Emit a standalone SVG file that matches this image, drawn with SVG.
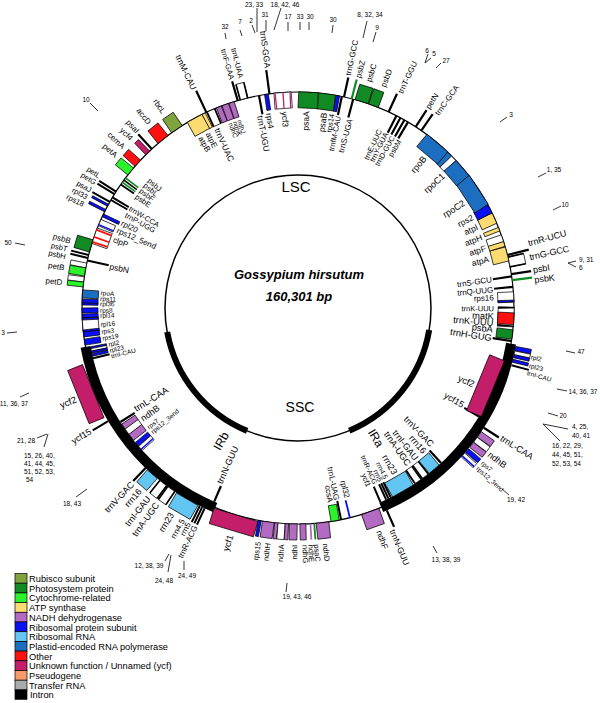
<svg xmlns="http://www.w3.org/2000/svg" width="600" height="703" viewBox="0 0 600 703">
<style>
rect{stroke:#000;stroke-width:.7}
.k{fill:#000;stroke:none}
.n{stroke:none}
.rb{fill:#7fa43e}.ps{fill:#128a24}.cy{fill:#2bf22b}.at{fill:#fcdb70}.nd{fill:#b36ac2}.rp{fill:#0a10f5}.rr{fill:#63c5f2}.pe{fill:#1c6ec0}.ot{fill:#ff1010}.yc{fill:#c41e6a}.pg{fill:#f59a6a}.tg{fill:#aaaaaa}.in{fill:#000}.wh{fill:#fff}
text{font-family:"Liberation Sans",Arial,Helvetica,sans-serif;fill:#000;font-size:8px}
.ri,.lo{text-anchor:end}.ro,.li{text-anchor:start}
.s65{font-size:6.5px}.s7{font-size:7px}.s75{font-size:7.5px}.s85{font-size:8.5px}.s9{font-size:9px}.s93{font-size:9.3px}
.m{font-size:6.5px;text-anchor:middle}.ms{font-size:6.5px;text-anchor:start}
.ml{stroke:#000;stroke-width:.8}
.lg{font-size:9.3px}
.ring{fill:none;stroke:#000;stroke-width:1.2}
</style>
<g id="connectors" transform="translate(298,308)">
<circle class="ring" r="216"/>
<circle r="216" fill="none" stroke="#000" stroke-width="10" stroke-dasharray="217.9 1139.3" transform="rotate(9.5)"/>
<circle r="216" fill="none" stroke="#000" stroke-width="10" stroke-dasharray="215.3 1141.9" transform="rotate(112.5)"/>
<circle r="133" fill="none" stroke="#000" stroke-width="1.5"/>
<circle r="133" fill="none" stroke="#000" stroke-width="6" stroke-dasharray="134.2 701.5" transform="rotate(9.5)"/>
<circle r="133" fill="none" stroke="#000" stroke-width="6" stroke-dasharray="132.5 703.2" transform="rotate(112.5)"/>
</g>
<g id="center">
<text x="296" y="192" style="font-size:15px" text-anchor="middle">LSC</text>
<text x="299" y="279" style="font-size:13px;font-weight:bold;font-style:italic" text-anchor="middle">Gossypium hirsutum</text>
<text x="299" y="301" style="font-size:13px;font-weight:bold;font-style:italic" text-anchor="middle">160,301 bp</text>
<text x="300" y="412" style="font-size:14px" text-anchor="middle">SSC</text>
<text transform="translate(221,441) rotate(-60)" style="font-size:12px" text-anchor="middle" dy=".35em">IRb</text>
<text transform="translate(376,438) rotate(59)" style="font-size:12px" text-anchor="middle" dy=".35em">IRa</text>
</g>
<g id="genes" transform="translate(298,308)">
<g id="trnH-GUG"><rect class="k" transform="rotate(98.8)" x="-1.1" y="-216" width="2.2" height="19"/><text class="ri s93" transform="rotate(98.8) translate(0,-196) rotate(-90)" dy=".35em">trnH-GUG</text></g>
<g id="psbA"><rect class="ps" transform="rotate(97.05)" x="-4.7" y="-216" width="9.4" height="16"/><text class="ri s93" transform="rotate(96.2) translate(0,-196) rotate(-90)" dy=".35em">psbA</text></g>
<g id="trnK-UUU"><rect class="wh" transform="rotate(92.4)" x="-9.8" y="-216" width="19.6" height="16"/><rect class="ot" transform="rotate(92.85)" x="-5.85" y="-216" width="11.7" height="16"/><rect class="k" transform="rotate(89.95)" x="-.8" y="-216" width="1.6" height="16"/><rect class="k" transform="rotate(94.85)" x="-.8" y="-216" width="1.6" height="16"/><text class="ri s75" transform="rotate(90.2) translate(0,-196) rotate(-90)" dy=".35em">trnK-UUU</text><text class="ri s93" transform="rotate(94.3) translate(0,-196) rotate(-90)" dy=".35em">trnK-UUU</text></g>
<g id="matK"><text class="ri s93" transform="rotate(92.4) translate(0,-196) rotate(-90)" dy=".35em">matK</text></g>
<g id="rps16"><rect class="wh" transform="rotate(87.05)" x="-5.1" y="-216" width="10.2" height="16"/><rect class="rp" transform="rotate(88.15)" x="-.95" y="-216" width="1.9" height="16"/><text class="ri" transform="rotate(86.9) translate(0,-196) rotate(-90)" dy=".35em">rps16</text></g>
<g id="trnQ-UUG"><rect class="k" transform="rotate(84.4)" x="-1.1" y="-216" width="2.2" height="19"/><text class="ri" transform="rotate(84.6) translate(0,-196) rotate(-90)" dy=".35em">trnQ-UUG</text></g>
<g id="psbK"><rect class="ps n" transform="rotate(82.6)" x="-1.1" y="-236" width="2.2" height="20"/><text class="ro s9" transform="rotate(83.2) translate(0,-238) rotate(-90)" dy=".35em">psbK</text></g>
<g id="trnS-GCU"><rect class="k" transform="rotate(81.6)" x="-1.1" y="-216" width="2.2" height="19"/><text class="ri" transform="rotate(81.6) translate(0,-196) rotate(-90)" dy=".35em">trnS-GCU</text></g>
<g id="psbI"><rect class="k" transform="rotate(81.0)" x="-1.1" y="-236" width="2.2" height="20"/><text class="ro s9" transform="rotate(80.8) translate(0,-238) rotate(-90)" dy=".35em">psbI</text></g>
<g id="trnG-GCC"><rect class="wh" transform="rotate(77.7)" x="-5.3" y="-232" width="10.6" height="16"/><rect class="k" transform="rotate(76.4)" x="-.8" y="-232" width="1.6" height="16"/><rect class="k" transform="rotate(79.0)" x="-.8" y="-232" width="1.6" height="16"/><text class="ro s9" transform="rotate(77.6) translate(0,-237) rotate(-90)" dy=".35em">trnG-GCC</text></g>
<g id="trnR-UCU"><rect class="k" transform="rotate(75.8)" x="-1.1" y="-238" width="2.2" height="22"/><text class="ro s9" transform="rotate(74.3) translate(0,-239) rotate(-90)" dy=".35em">trnR-UCU</text></g>
<g id="atpA"><rect class="at" transform="rotate(75.5)" x="-7.15" y="-216" width="14.3" height="16"/><text class="ri s85" transform="rotate(75.6) translate(0,-197) rotate(-90)" dy=".35em">atpA</text></g>
<g id="atpF"><rect class="wh" transform="rotate(71.15)" x="-3.6" y="-216" width="7.2" height="16"/><rect class="at" transform="rotate(72.75)" x="-2.45" y="-216" width="4.9" height="16"/><text class="ri s85" transform="rotate(72.3) translate(0,-197) rotate(-90)" dy=".35em">atpF</text></g>
<g id="atpH"><rect class="at" transform="rotate(68.6)" x="-1.9" y="-216" width="3.8" height="16"/><text class="ri s85" transform="rotate(68.9) translate(0,-197) rotate(-90)" dy=".35em">atpH</text></g>
<g id="atpI"><rect class="at" transform="rotate(65.4)" x="-5.65" y="-216" width="11.3" height="16"/><text class="ri s85" transform="rotate(65.6) translate(0,-197) rotate(-90)" dy=".35em">atpI</text></g>
<g id="rps2"><rect class="rp" transform="rotate(62.7)" x="-4.5" y="-216" width="9" height="16"/><text class="ri s85" transform="rotate(62.5) translate(0,-197) rotate(-90)" dy=".35em">rps2</text></g>
<g id="rpoC2"><rect class="pe" transform="rotate(56.8)" x="-17.35" y="-216" width="34.7" height="16"/><text class="ri s9" transform="rotate(57.5) translate(0,-197) rotate(-90)" dy=".35em">rpoC2</text></g>
<g id="rpoC1"><rect class="pe" transform="rotate(44.55)" x="-2.85" y="-216" width="5.7" height="16"/><rect class="wh" transform="rotate(46.15)" x="-3.2" y="-216" width="6.4" height="16"/><rect class="pe" transform="rotate(49.6)" x="-9.8" y="-216" width="19.6" height="16"/><text class="ri s9" transform="rotate(47.5) translate(0,-197) rotate(-90)" dy=".35em">rpoC1</text></g>
<g id="rpoB"><rect class="pe" transform="rotate(40.2)" x="-13.55" y="-216" width="27.1" height="16"/><text class="ri s9" transform="rotate(40.0) translate(0,-197) rotate(-90)" dy=".35em">rpoB</text></g>
<g id="trnC-GCA"><rect class="k" transform="rotate(34.8)" x="-1.1" y="-236" width="2.2" height="20"/><text class="ro" transform="rotate(35.6) translate(0,-238) rotate(-90)" dy=".35em">trnC-GCA</text></g>
<g id="petN"><rect class="k" transform="rotate(33.0)" x="-1.1" y="-236" width="2.2" height="20"/><text class="ro" transform="rotate(32.9) translate(0,-238) rotate(-90)" dy=".35em">petN</text></g>
<g id="psbM"><rect class="k" transform="rotate(30.6)" x="-1.1" y="-216" width="2.2" height="19"/><text class="ri s75" transform="rotate(31.2) translate(0,-196) rotate(-90)" dy=".35em">psbM</text></g>
<g id="trnD-GUC"><rect class="k" transform="rotate(29.5)" x="-1.1" y="-216" width="2.2" height="19"/><text class="ri s75" transform="rotate(28.9) translate(0,-196) rotate(-90)" dy=".35em">trnD-GUC</text></g>
<g id="trnY-GUA"><rect class="k" transform="rotate(28.3)" x="-1.1" y="-216" width="2.2" height="19"/><text class="ri s75" transform="rotate(26.7) translate(0,-196) rotate(-90)" dy=".35em">trnY-GUA</text></g>
<g id="trnE-UUC"><rect class="k" transform="rotate(27.1)" x="-1.1" y="-216" width="2.2" height="19"/><text class="ri s75" transform="rotate(24.6) translate(0,-196) rotate(-90)" dy=".35em">trnE-UUC</text></g>
<g id="trnT-GGU"><rect class="k" transform="rotate(24.8)" x="-1.1" y="-236" width="2.2" height="20"/><text class="ro" transform="rotate(25.4) translate(0,-238) rotate(-90)" dy=".35em">trnT-GGU</text></g>
<g id="psbD"><rect class="ps" transform="rotate(20.4)" x="-5.3" y="-232" width="10.6" height="16"/><text class="ro" transform="rotate(21.0) translate(0,-237) rotate(-90)" dy=".35em">psbD</text></g>
<g id="psbC"><rect class="ps" transform="rotate(17.15)" x="-6.95" y="-232" width="13.9" height="16"/><text class="ro" transform="rotate(17.3) translate(0,-237) rotate(-90)" dy=".35em">psbC</text></g>
<g id="psbZ"><rect class="ps n" transform="rotate(14.4)" x="-1.1" y="-236" width="2.2" height="20"/><text class="ro" transform="rotate(14.6) translate(0,-238) rotate(-90)" dy=".35em">psbZ</text></g>
<g id="trnS-UGA"><rect class="k" transform="rotate(14.8)" x="-1.1" y="-216" width="2.2" height="19"/><text class="ri" transform="rotate(15.4) translate(0,-196) rotate(-90)" dy=".35em">trnS-UGA</text></g>
<g id="trnG-GCC-2"><rect class="k" transform="rotate(12.3)" x="-1.1" y="-236" width="2.2" height="20"/><text class="ro" transform="rotate(12.1) translate(0,-238) rotate(-90)" dy=".35em">trnG-GCC</text></g>
<g id="trnfM-CAU"><rect class="k" transform="rotate(11.7)" x="-1.1" y="-216" width="2.2" height="19"/><text class="ri s75" transform="rotate(11.9) translate(0,-196) rotate(-90)" dy=".35em">trnfM-CAU</text></g>
<g id="rps14"><rect class="rp" transform="rotate(10.6)" x="-1.9" y="-216" width="3.8" height="16"/><text class="ri s75" transform="rotate(9.9) translate(0,-197) rotate(-90)" dy=".35em">rps14</text></g>
<g id="psaB"><rect class="ps" transform="rotate(7.75)" x="-8.5" y="-216" width="17" height="16"/><text class="ri s85" transform="rotate(7.6) translate(0,-197) rotate(-90)" dy=".35em">psaB</text></g>
<g id="psaA"><rect class="ps" transform="rotate(2.8)" x="-9.8" y="-216" width="19.6" height="16"/><text class="ri s85" transform="rotate(2.4) translate(0,-197) rotate(-90)" dy=".35em">psaA</text></g>
<g id="ycf3"><rect class="wh" transform="rotate(-4.1)" x="-8.65" y="-216" width="17.3" height="16"/><rect class="yc n" transform="rotate(-6.1)" x="-.65" y="-216" width="1.3" height="16"/><rect class="yc n" transform="rotate(-4.0)" x="-.65" y="-216" width="1.3" height="16"/><rect class="yc n" transform="rotate(-2.1)" x="-.65" y="-216" width="1.3" height="16"/><text class="li s85" transform="rotate(-3.9) translate(0,-197) rotate(90)" dy=".35em">ycf3</text></g>
<g id="trnS-GGA"><rect class="k" transform="rotate(-7.6)" x="-1.1" y="-240" width="2.2" height="24"/><text class="lo s85" transform="rotate(-7.2) translate(0,-242) rotate(90)" dy=".35em">trnS-GGA</text></g>
<g id="rps4"><rect class="rp" transform="rotate(-8.4)" x="-1.9" y="-216" width="3.8" height="16"/><text class="li" transform="rotate(-8.5) translate(0,-197) rotate(90)" dy=".35em">rps4</text></g>
<g id="trnT-UGU"><rect class="k" transform="rotate(-10.4)" x="-1.1" y="-216" width="2.2" height="19"/><text class="li s85" transform="rotate(-11.2) translate(0,-196) rotate(90)" dy=".35em">trnT-UGU</text></g>
<g id="trnL-UAA"><rect class="wh" transform="rotate(-14.5)" x="-4.15" y="-232" width="8.3" height="16"/><rect class="k" transform="rotate(-15.5)" x="-.8" y="-232" width="1.6" height="16"/><rect class="k" transform="rotate(-13.5)" x="-.8" y="-232" width="1.6" height="16"/><text class="lo s75" transform="rotate(-13.9) translate(0,-237) rotate(90)" dy=".35em">trnL-UAA</text></g>
<g id="trnF-GAA"><rect class="k" transform="rotate(-16.2)" x="-1.1" y="-236" width="2.2" height="20"/><text class="lo s75" transform="rotate(-16.1) translate(0,-238) rotate(90)" dy=".35em">trnF-GAA</text></g>
<g id="ndhJ"><rect class="nd" transform="rotate(-17.9)" x="-2.65" y="-216" width="5.3" height="16"/><text class="li s65" transform="rotate(-17.3) translate(0,-197) rotate(90)" dy=".35em">ndhJ</text></g>
<g id="ndhK"><rect class="nd" transform="rotate(-19.7)" x="-3.4" y="-216" width="6.8" height="16"/><text class="li s65" transform="rotate(-18.7) translate(0,-197) rotate(90)" dy=".35em">ndhK</text></g>
<g id="ndhC"><rect class="nd" transform="rotate(-21.5)" x="-2.65" y="-216" width="5.3" height="16"/><text class="li s65" transform="rotate(-20.1) translate(0,-197) rotate(90)" dy=".35em">ndhC</text></g>
<g id="trnV-UAC"><rect class="wh" transform="rotate(-23.8)" x="-4.5" y="-216" width="9" height="16"/><rect class="k" transform="rotate(-24.9)" x="-.8" y="-216" width="1.6" height="16"/><rect class="k" transform="rotate(-22.7)" x="-.8" y="-216" width="1.6" height="16"/><text class="li s85" transform="rotate(-24.3) translate(0,-197) rotate(90)" dy=".35em">trnV-UAC</text></g>
<g id="trnM-CAU"><rect class="k" transform="rotate(-25.1)" x="-1.1" y="-240" width="2.2" height="24"/><text class="lo s85" transform="rotate(-25.4) translate(0,-242) rotate(90)" dy=".35em">trnM-CAU</text></g>
<g id="atpE"><rect class="at" transform="rotate(-25.9)" x="-1.9" y="-216" width="3.8" height="16"/><text class="li" transform="rotate(-27.2) translate(0,-197) rotate(90)" dy=".35em">atpE</text></g>
<g id="atpB"><rect class="at" transform="rotate(-28.6)" x="-8.3" y="-216" width="16.6" height="16"/><text class="li" transform="rotate(-29.7) translate(0,-197) rotate(90)" dy=".35em">atpB</text></g>
<g id="rbcL"><rect class="rb" transform="rotate(-34.1)" x="-6.4" y="-232" width="12.8" height="16"/><text class="lo" transform="rotate(-34.5) translate(0,-237) rotate(90)" dy=".35em">rbcL</text></g>
<g id="accD"><rect class="ot" transform="rotate(-38.7)" x="-6.4" y="-232" width="12.8" height="16"/><text class="lo" transform="rotate(-38.8) translate(0,-237) rotate(90)" dy=".35em">accD</text></g>
<g id="psaI"><rect class="k" transform="rotate(-42.6)" x="-1.1" y="-236" width="2.2" height="20"/><text class="lo" transform="rotate(-42.3) translate(0,-238) rotate(90)" dy=".35em">psaI</text></g>
<g id="ycf4"><rect class="yc" transform="rotate(-44.1)" x="-2.65" y="-232" width="5.3" height="16"/><text class="lo" transform="rotate(-44.6) translate(0,-237) rotate(90)" dy=".35em">ycf4</text></g>
<g id="cemA"><rect class="ot" transform="rotate(-47.9)" x="-4.15" y="-232" width="8.3" height="16"/><text class="lo" transform="rotate(-47.3) translate(0,-237) rotate(90)" dy=".35em">cemA</text></g>
<g id="petA"><rect class="cy" transform="rotate(-50.8)" x="-4.5" y="-232" width="9" height="16"/><text class="lo" transform="rotate(-50.0) translate(0,-237) rotate(90)" dy=".35em">petA</text></g>
<g id="psbJ"><rect class="ps n" transform="rotate(-53.0)" x="-.8" y="-216" width="1.6" height="16"/><text class="li s75" transform="rotate(-49.3) translate(0,-197) rotate(90)" dy=".35em">psbJ</text></g>
<g id="psbL"><rect class="k" transform="rotate(-53.7)" x="-.8" y="-216" width="1.6" height="16"/><text class="li s75" transform="rotate(-51.2) translate(0,-197) rotate(90)" dy=".35em">psbL</text></g>
<g id="psbF"><rect class="ps n" transform="rotate(-54.4)" x="-.8" y="-216" width="1.6" height="16"/><text class="li s75" transform="rotate(-53.2) translate(0,-197) rotate(90)" dy=".35em">psbF</text></g>
<g id="psbE"><rect class="k" transform="rotate(-55.1)" x="-.9" y="-216" width="1.8" height="16"/><text class="li s75" transform="rotate(-55.3) translate(0,-197) rotate(90)" dy=".35em">psbE</text></g>
<g id="petL"><rect class="k" transform="rotate(-57.4)" x="-1" y="-236" width="2" height="20"/><text class="lo s75" transform="rotate(-56.4) translate(0,-238) rotate(90)" dy=".35em">petL</text></g>
<g id="petG"><rect class="k" transform="rotate(-58.2)" x="-1" y="-236" width="2" height="20"/><text class="lo s75" transform="rotate(-58.3) translate(0,-238) rotate(90)" dy=".35em">petG</text></g>
<g id="trnW-CCA"><rect class="k" transform="rotate(-59.2)" x="-1" y="-216" width="2" height="19"/><text class="li s75" transform="rotate(-59.3) translate(0,-196) rotate(90)" dy=".35em">trnW-CCA</text></g>
<g id="trnP-UGG"><rect class="k" transform="rotate(-60.0)" x="-1" y="-216" width="2" height="19"/><text class="li s75" transform="rotate(-61.6) translate(0,-196) rotate(90)" dy=".35em">trnP-UGG</text></g>
<g id="psaJ"><rect class="k" transform="rotate(-60.6)" x="-1" y="-236" width="2" height="20"/><text class="lo s75" transform="rotate(-60.4) translate(0,-238) rotate(90)" dy=".35em">psaJ</text></g>
<g id="rpl33"><rect class="rp" transform="rotate(-61.6)" x="-1.1" y="-234" width="2.2" height="18"/><text class="lo s75" transform="rotate(-62.3) translate(0,-238) rotate(90)" dy=".35em">rpl33</text></g>
<g id="rps18"><rect class="rp" transform="rotate(-63.2)" x="-1.3" y="-234" width="2.6" height="18"/><text class="lo s75" transform="rotate(-64.2) translate(0,-238) rotate(90)" dy=".35em">rps18</text></g>
<g id="rpl20"><rect class="rp" transform="rotate(-64.6)" x="-1.5" y="-216" width="3" height="18"/><text class="li" transform="rotate(-64.2) translate(0,-196) rotate(90)" dy=".35em">rpl20</text></g>
<g id="rps12_5end"><rect class="wh" transform="rotate(-66.7)" x="-3.4" y="-216" width="6.8" height="16"/><rect class="rp n" transform="rotate(-67.3)" x="-.75" y="-216" width="1.5" height="16"/><text class="li" transform="rotate(-66.7) translate(0,-197) rotate(90)" dy=".35em">rps12_5end</text></g>
<g id="clpP"><rect class="wh" transform="rotate(-70.45)" x="-8.1" y="-216" width="16.2" height="16"/><rect class="ot n" transform="rotate(-68.8)" x="-.9" y="-216" width="1.8" height="16"/><rect class="ot n" transform="rotate(-70.8)" x="-.9" y="-216" width="1.8" height="16"/><rect class="ot n" transform="rotate(-72.2)" x="-.9" y="-216" width="1.8" height="16"/><text class="li" transform="rotate(-69.6) translate(0,-197) rotate(90)" dy=".35em">clpP</text></g>
<g id="psbB"><rect class="ps" transform="rotate(-73.3)" x="-6.4" y="-232" width="12.8" height="16"/><text class="lo" transform="rotate(-73.6) translate(0,-237) rotate(90)" dy=".35em">psbB</text></g>
<g id="psbT"><rect class="k" transform="rotate(-75.8)" x="-1" y="-234" width="2" height="18"/><text class="lo s75" transform="rotate(-75.7) translate(0,-238) rotate(90)" dy=".35em">psbT</text></g>
<g id="psbH"><rect class="k" transform="rotate(-76.6)" x="-1" y="-234" width="2" height="18"/><text class="lo s75" transform="rotate(-77.5) translate(0,-238) rotate(90)" dy=".35em">psbH</text></g>
<g id="psbN"><rect class="k" transform="rotate(-77.3)" x="-1" y="-216" width="2" height="22"/><text class="li s85" transform="rotate(-77.5) translate(0,-193) rotate(90)" dy=".35em">psbN</text></g>
<g id="petB"><rect class="wh" transform="rotate(-78.65)" x="-2.45" y="-232" width="4.9" height="16"/><rect class="cy" transform="rotate(-80.4)" x="-4.15" y="-232" width="8.3" height="16"/><text class="lo" transform="rotate(-80.2) translate(0,-237) rotate(90)" dy=".35em">petB</text></g>
<g id="petD"><rect class="wh" transform="rotate(-82.4)" x="-2.65" y="-232" width="5.3" height="16"/><rect class="cy" transform="rotate(-83.75)" x="-2.45" y="-232" width="4.9" height="16"/><text class="lo" transform="rotate(-83.8) translate(0,-237) rotate(90)" dy=".35em">petD</text></g>
<g id="rpoA"><rect class="pe" transform="rotate(-86.25)" x="-3.95" y="-216" width="7.9" height="16"/><text class="li s65" transform="rotate(-85.6) translate(0,-198) rotate(90)" dy=".35em">rpoA</text></g>
<g id="rps11"><rect class="rp" transform="rotate(-88.15)" x="-2.05" y="-216" width="4.1" height="16"/><text class="li s65" transform="rotate(-87.3) translate(0,-198) rotate(90)" dy=".35em">rps11</text></g>
<g id="rpl36"><rect class="rp" transform="rotate(-88.95)" x="-.95" y="-216" width="1.9" height="16"/><text class="li s65" transform="rotate(-88.8) translate(0,-198) rotate(90)" dy=".35em">rpl36</text></g>
<g id="rps8"><rect class="rp" transform="rotate(-90.65)" x="-2.45" y="-216" width="4.9" height="16"/><text class="li s65" transform="rotate(-90.7) translate(0,-198) rotate(90)" dy=".35em">rps8</text></g>
<g id="rpl14"><rect class="rp" transform="rotate(-92.15)" x="-2.05" y="-216" width="4.1" height="16"/><text class="li s65" transform="rotate(-92.2) translate(0,-198) rotate(90)" dy=".35em">rpl14</text></g>
<g id="rpl16"><rect class="wh" transform="rotate(-94.55)" x="-7" y="-216" width="14" height="16"/><rect class="rp" transform="rotate(-92.95)" x="-.95" y="-216" width="1.9" height="16"/><rect class="rp" transform="rotate(-96.1)" x="-1" y="-216" width="2" height="16"/><text class="li s65" transform="rotate(-94.8) translate(0,-198) rotate(90)" dy=".35em">rpl16</text></g>
<g id="rps3"><rect class="rp" transform="rotate(-97.05)" x="-2.45" y="-216" width="4.9" height="16"/><text class="li s65" transform="rotate(-96.9) translate(0,-198) rotate(90)" dy=".35em">rps3</text></g>
<g id="rps19"><rect class="rp" transform="rotate(-99.1)" x="-3" y="-216" width="6" height="16"/><text class="li s65" transform="rotate(-98.8) translate(0,-198) rotate(90)" dy=".35em">rps19</text></g>
<g id="rpl2-b"><rect class="rp" transform="rotate(-100.85)" x="-.95" y="-211" width="1.9" height="16"/><rect class="wh" transform="rotate(-101.45)" x="-1.3" y="-211" width="2.6" height="16"/><rect class="rp" transform="rotate(-102.05)" x="-.95" y="-211" width="1.9" height="16"/><text class="li s65" transform="rotate(-100.9) translate(0,-193) rotate(90)" dy=".35em">rpl2</text></g>
<g id="rpl23-b"><rect class="rp" transform="rotate(-102.85)" x="-1.3" y="-211" width="2.6" height="16"/><text class="li s65" transform="rotate(-102.7) translate(0,-193) rotate(90)" dy=".35em">rpl23</text></g>
<g id="trnI-CAU-b"><rect class="k" transform="rotate(-103.8)" x="-1" y="-211" width="2" height="17"/><text class="li s65" transform="rotate(-104.5) translate(0,-193) rotate(90)" dy=".35em">trnI-CAU</text></g>
<g id="ycf2-b"><rect class="yc" transform="rotate(247.9)" x="-28.65" y="-237" width="57.3" height="16"/><text class="lo s93" transform="rotate(247.7) translate(0,-240) rotate(90)" dy=".35em">ycf2</text></g>
<g id="ycf15-b"><rect class="k" transform="rotate(239.2)" x="-1" y="-239" width="2" height="18"/><text class="lo s9" transform="rotate(239.4) translate(0,-241) rotate(90)" dy=".35em">ycf15</text></g>
<g id="trnL-CAA-b"><rect class="k" transform="rotate(237.3)" x="-1.1" y="-211" width="2.2" height="17"/><text class="li s93" transform="rotate(238.2) translate(0,-192) rotate(90)" dy=".35em">trnL-CAA</text></g>
<g id="ndhB-b"><rect class="nd" transform="rotate(235.8)" x="-3" y="-211" width="6" height="16"/><rect class="wh" transform="rotate(234.1)" x="-3.4" y="-211" width="6.8" height="16"/><rect class="nd" transform="rotate(232.2)" x="-3.75" y="-211" width="7.5" height="16"/><text class="li s9" transform="rotate(234.6) translate(0,-192) rotate(90)" dy=".35em">ndhB</text></g>
<g id="rps7-b"><rect class="rp" transform="rotate(229.8)" x="-2.25" y="-211" width="4.5" height="16"/><text class="li s65" transform="rotate(231.4) translate(0,-192) rotate(90)" dy=".35em">rps7</text></g>
<g id="rps12_3end-b"><rect class="wh" transform="rotate(228.3)" x="-2.65" y="-211" width="5.3" height="16"/><rect class="rp n" transform="rotate(228.0)" x="-.75" y="-211" width="1.5" height="16"/><text class="li s65" transform="rotate(229.6) translate(0,-192) rotate(90)" dy=".35em">rps12_3end</text></g>
<g id="trnV-GAC-b"><rect class="k" transform="rotate(223.6)" x="-1.1" y="-239" width="2.2" height="18"/><text class="lo s9" transform="rotate(223.4) translate(0,-241) rotate(90)" dy=".35em">trnV-GAC</text></g>
<g id="rrn16-b"><rect class="rr" transform="rotate(221.25)" x="-6.6" y="-237" width="13.2" height="16"/><text class="lo s9" transform="rotate(221.0) translate(0,-241) rotate(90)" dy=".35em">rrn16</text></g>
<g id="trnI-GAU-b"><rect class="wh" transform="rotate(217.6)" x="-4.5" y="-237" width="9" height="16"/><rect class="k" transform="rotate(216.5)" x="-.8" y="-237" width="1.6" height="16"/><rect class="k" transform="rotate(218.7)" x="-.8" y="-237" width="1.6" height="16"/><text class="lo s9" transform="rotate(218.3) translate(0,-241) rotate(90)" dy=".35em">trnI-GAU</text></g>
<g id="trnA-UGC-b"><rect class="wh" transform="rotate(215)" x="-4.5" y="-237" width="9" height="16"/><rect class="k" transform="rotate(213.9)" x="-.8" y="-237" width="1.6" height="16"/><rect class="k" transform="rotate(216.1)" x="-.8" y="-237" width="1.6" height="16"/><text class="lo s9" transform="rotate(215.8) translate(0,-241) rotate(90)" dy=".35em">trnA-UGC</text></g>
<g id="rrn23-b"><rect class="rr" transform="rotate(210.1)" x="-12.45" y="-237" width="24.9" height="16"/><text class="lo s9" transform="rotate(211.6) translate(0,-241) rotate(90)" dy=".35em">rrn23</text></g>
<g id="rrn4.5-b"><rect class="k" transform="rotate(206.4)" x="-1" y="-239" width="2" height="18"/><text class="lo" transform="rotate(208.6) translate(0,-241) rotate(90)" dy=".35em">rrn4.5</text></g>
<g id="rrn5-b"><rect class="k" transform="rotate(205.7)" x="-1" y="-239" width="2" height="18"/><text class="lo" transform="rotate(207.0) translate(0,-241) rotate(90)" dy=".35em">rrn5</text></g>
<g id="trnR-ACG-b"><rect class="k" transform="rotate(205.0)" x="-1" y="-239" width="2" height="18"/><text class="lo" transform="rotate(205.3) translate(0,-241) rotate(90)" dy=".35em">trnR-ACG</text></g>
<g id="trnN-GUU-b"><rect class="k" transform="rotate(203.4)" x="-1.1" y="-211" width="2.2" height="17"/><text class="li s9" transform="rotate(204.2) translate(0,-192) rotate(90)" dy=".35em">trnN-GUU</text></g>
<g id="ycf1"><rect class="yc" transform="rotate(196.7)" x="-23" y="-232" width="46" height="16"/><text class="lo s9" transform="rotate(196.6) translate(0,-237) rotate(90)" dy=".35em">ycf1</text></g>
<g id="rps15"><rect class="rp" transform="rotate(190.2)" x="-1.5" y="-232" width="3" height="16"/><text class="lo s75" transform="rotate(189.6) translate(0,-237) rotate(90)" dy=".35em">rps15</text></g>
<g id="ndhH"><rect class="nd" transform="rotate(187.9)" x="-6" y="-232" width="12" height="16"/><text class="lo s75" transform="rotate(187.3) translate(0,-237) rotate(90)" dy=".35em">ndhH</text></g>
<g id="ndhA"><rect class="nd" transform="rotate(185.75)" x="-1.7" y="-232" width="3.4" height="16"/><rect class="wh" transform="rotate(184.35)" x="-3.6" y="-232" width="7.2" height="16"/><rect class="nd" transform="rotate(182.95)" x="-1.7" y="-232" width="3.4" height="16"/><text class="lo s75" transform="rotate(184.0) translate(0,-237) rotate(90)" dy=".35em">ndhA</text></g>
<g id="ndhI"><rect class="nd" transform="rotate(181.25)" x="-3.95" y="-232" width="7.9" height="16"/><text class="lo s75" transform="rotate(180.8) translate(0,-237) rotate(90)" dy=".35em">ndhI</text></g>
<g id="ndhG"><rect class="nd" transform="rotate(178.7)" x="-3" y="-232" width="6" height="16"/><text class="ro s75" transform="rotate(178.3) translate(0,-237) rotate(-90)" dy=".35em">ndhG</text></g>
<g id="ndhE"><rect class="nd n" transform="rotate(176.7)" x="-.9" y="-232" width="1.8" height="16"/><text class="ro s75" transform="rotate(176.9) translate(0,-237) rotate(-90)" dy=".35em">ndhE</text></g>
<g id="psaC"><rect class="ps n" transform="rotate(175.7)" x="-.9" y="-232" width="1.8" height="16"/><text class="ro s75" transform="rotate(175.5) translate(0,-237) rotate(-90)" dy=".35em">psaC</text></g>
<g id="ndhD"><rect class="nd" transform="rotate(173.5)" x="-6.4" y="-232" width="12.8" height="16"/><text class="ro s75" transform="rotate(173.4) translate(0,-237) rotate(-90)" dy=".35em">ndhD</text></g>
<g id="ccsA"><rect class="cy" transform="rotate(170.1)" x="-4.15" y="-216" width="8.3" height="16"/><text class="ri" transform="rotate(170.5) translate(0,-197) rotate(-90)" dy=".35em">ccsA</text></g>
<g id="trnL-UAG"><rect class="k" transform="rotate(168.5)" x="-1" y="-216" width="2" height="19"/><text class="ri" transform="rotate(168.6) translate(0,-196) rotate(-90)" dy=".35em">trnL-UAG</text></g>
<g id="rpl32"><rect class="rp n" transform="rotate(166.1)" x="-.9" y="-216" width="1.8" height="18"/><text class="ri" transform="rotate(165.4) translate(0,-196) rotate(-90)" dy=".35em">rpl32</text></g>
<g id="ndhF"><rect class="nd" transform="rotate(160.45)" x="-9.25" y="-232" width="18.5" height="16"/><text class="ro s85" transform="rotate(160.0) translate(0,-237) rotate(-90)" dy=".35em">ndhF</text></g>
<g id="ycf1-a"><rect class="k" transform="rotate(157.0)" x="-1" y="-211" width="2" height="17"/><text class="ri s75" transform="rotate(158.4) translate(0,-192) rotate(-90)" dy=".35em">ycf1</text></g>
<g id="trnN-GUU-a"><rect class="k" transform="rotate(156.3)" x="-1.1" y="-239" width="2.2" height="18"/><text class="ro s85" transform="rotate(157.0) translate(0,-241) rotate(-90)" dy=".35em">trnN-GUU</text></g>
<g id="trnR-ACG-a"><rect class="k" transform="rotate(155.3)" x="-1" y="-211" width="2" height="17"/><text class="ri s7" transform="rotate(156.3) translate(0,-192) rotate(-90)" dy=".35em">trnR-ACG</text></g>
<g id="rrn5-a"><rect class="k" transform="rotate(154.6)" x="-1" y="-211" width="2" height="17"/><text class="ri s7" transform="rotate(154.5) translate(0,-192) rotate(-90)" dy=".35em">rrn5</text></g>
<g id="rrn4.5-a"><rect class="k" transform="rotate(153.9)" x="-1" y="-211" width="2" height="17"/><text class="ri s7" transform="rotate(152.7) translate(0,-192) rotate(-90)" dy=".35em">rrn4.5</text></g>
<g id="rrn23-a"><rect class="rr" transform="rotate(150.15)" x="-11.9" y="-211" width="23.8" height="16"/><text class="ri s9" transform="rotate(149.6) translate(0,-192) rotate(-90)" dy=".35em">rrn23</text></g>
<g id="trnA-UGC-a"><rect class="wh" transform="rotate(145.3)" x="-4.15" y="-211" width="8.3" height="16"/><rect class="k" transform="rotate(144.3)" x="-.8" y="-211" width="1.6" height="16"/><rect class="k" transform="rotate(146.3)" x="-.8" y="-211" width="1.6" height="16"/><text class="ri s9" transform="rotate(144.7) translate(0,-192) rotate(-90)" dy=".35em">trnA-UGC</text></g>
<g id="trnI-GAU-a"><rect class="wh" transform="rotate(142.9)" x="-4.15" y="-211" width="8.3" height="16"/><rect class="k" transform="rotate(141.9)" x="-.8" y="-211" width="1.6" height="16"/><rect class="k" transform="rotate(143.9)" x="-.8" y="-211" width="1.6" height="16"/><text class="ri s9" transform="rotate(141.9) translate(0,-192) rotate(-90)" dy=".35em">trnI-GAU</text></g>
<g id="rrn16-a"><rect class="rr" transform="rotate(139.8)" x="-6.4" y="-211" width="12.8" height="16"/><text class="ri s9" transform="rotate(138.7) translate(0,-192) rotate(-90)" dy=".35em">rrn16</text></g>
<g id="trnV-GAC-a"><rect class="k" transform="rotate(137.3)" x="-1.1" y="-211" width="2.2" height="17"/><text class="ri s9" transform="rotate(135.6) translate(0,-192) rotate(-90)" dy=".35em">trnV-GAC</text></g>
<g id="rps12_3end-a"><rect class="wh" transform="rotate(131.7)" x="-2.65" y="-237" width="5.3" height="16"/><rect class="rp n" transform="rotate(132.0)" x="-.75" y="-237" width="1.5" height="16"/><text class="ro s65" transform="rotate(131.7) translate(0,-240) rotate(-90)" dy=".35em">rps12_3end</text></g>
<g id="rps7-a"><rect class="rp" transform="rotate(130.15)" x="-2.45" y="-237" width="4.9" height="16"/><text class="ro s65" transform="rotate(130.0) translate(0,-240) rotate(-90)" dy=".35em">rps7</text></g>
<g id="ndhB-a"><rect class="nd" transform="rotate(124.9)" x="-3.4" y="-237" width="6.8" height="16"/><rect class="wh" transform="rotate(126.6)" x="-3" y="-237" width="6" height="16"/><rect class="nd" transform="rotate(128.25)" x="-3.2" y="-237" width="6.4" height="16"/><text class="ro s9" transform="rotate(127.3) translate(0,-240) rotate(-90)" dy=".35em">ndhB</text></g>
<g id="trnL-CAA-a"><rect class="k" transform="rotate(122.8)" x="-1.1" y="-239" width="2.2" height="18"/><text class="ro s9" transform="rotate(122.5) translate(0,-241) rotate(-90)" dy=".35em">trnL-CAA</text></g>
<g id="ycf15-a"><rect class="k" transform="rotate(121.0)" x="-1" y="-211" width="2" height="17"/><text class="ri s9" transform="rotate(120.5) translate(0,-192) rotate(-90)" dy=".35em">ycf15</text></g>
<g id="ycf2-a"><rect class="yc" transform="rotate(112.5)" x="-30.15" y="-211" width="60.3" height="16"/><text class="ri s93" transform="rotate(113.5) translate(0,-192) rotate(-90)" dy=".35em">ycf2</text></g>
<g id="trnI-CAU-a"><rect class="k" transform="rotate(105.0)" x="-1" y="-239" width="2" height="18"/><text class="ro s65" transform="rotate(105.8) translate(0,-238) rotate(-90)" dy=".35em">trnI-CAU</text></g>
<g id="rpl23-a"><rect class="rp" transform="rotate(103.8)" x="-1.5" y="-237" width="3" height="16"/><text class="ro s65" transform="rotate(104.0) translate(0,-238) rotate(-90)" dy=".35em">rpl23</text></g>
<g id="rpl2-a"><rect class="rp" transform="rotate(100.6)" x="-2.25" y="-237" width="4.5" height="16"/><rect class="wh" transform="rotate(101.7)" x="-1.9" y="-237" width="3.8" height="16"/><rect class="rp" transform="rotate(102.6)" x="-1.5" y="-237" width="3" height="16"/><text class="ro s65" transform="rotate(101.9) translate(0,-238) rotate(-90)" dy=".35em">rpl2</text></g>
</g>
<g id="markers">
<line class="ml" x1="225" y1="33" x2="226" y2="39"/><text class="m" x="225" y="29">32</text>
<line class="ml" x1="240" y1="30" x2="242" y2="36"/><text class="m" x="240" y="24">7</text>
<line class="ml" x1="252" y1="25" x2="255" y2="33"/><text class="m" x="251" y="23">2</text>
<line class="ml" x1="257" y1="8" x2="257" y2="32"/><text class="m" x="254" y="6.5">23, 33</text>
<line class="ml" x1="266" y1="20" x2="266" y2="31"/><text class="m" x="265" y="17">31</text>
<line class="ml" x1="281" y1="8" x2="274" y2="30"/><text class="m" x="285" y="6.5">18, 42, 46</text>
<line class="ml" x1="288" y1="22" x2="288" y2="31"/><text class="m" x="288" y="19">17</text>
<line class="ml" x1="300" y1="22" x2="300" y2="30"/><text class="m" x="300" y="19">33</text>
<line class="ml" x1="309" y1="22" x2="309" y2="30"/><text class="m" x="310" y="19">30</text>
<line class="ml" x1="333" y1="25" x2="332" y2="33"/><text class="m" x="333" y="22">30</text>
<line class="ml" x1="367" y1="21" x2="363" y2="38"/><text class="m" x="370" y="17">8, 32, 34</text>
<line class="ml" x1="376" y1="32" x2="373" y2="42"/><text class="m" x="377" y="30">9</text>
<line class="ml" x1="425" y1="63" x2="428" y2="54"/><line class="ml" x1="425" y1="63" x2="431" y2="58"/><text class="m" x="427" y="53">6</text><text class="m" x="434" y="56">5</text>
<line class="ml" x1="436" y1="68" x2="441" y2="63"/><text class="m" x="446" y="63">27</text>
<line class="ml" x1="500" y1="122" x2="507" y2="117"/><text class="m" x="511" y="117">3</text>
<line class="ml" x1="538" y1="177" x2="546" y2="173"/><text class="m" x="554" y="172">1, 35</text>
<line class="ml" x1="553" y1="210" x2="561" y2="206"/><text class="m" x="565" y="207">10</text>
<line class="ml" x1="568" y1="263" x2="576" y2="261"/><line class="ml" x1="568" y1="263" x2="576" y2="267"/><text class="ms" x="579" y="262">9, 31</text><text class="ms" x="579" y="270">6</text>
<line class="ml" x1="90" y1="103" x2="98" y2="111"/><text class="m" x="86" y="102">10</text>
<line class="ml" x1="15" y1="243" x2="25" y2="245"/><text class="m" x="8" y="245">50</text>
<line class="ml" x1="7" y1="333" x2="17" y2="332"/><text class="m" x="3" y="335">3</text>
<line class="ml" x1="20" y1="397" x2="29" y2="393"/><text class="m" x="14" y="406">11, 36, 37</text>
<line class="ml" x1="37" y1="438" x2="47" y2="434"/><line class="ml" x1="48" y1="434" x2="44" y2="447"/><text class="m" x="26" y="443">21, 28</text>
<text class="ms" x="24" y="457.5">15, 26, 40,</text><text class="ms" x="24" y="465.5">41, 44, 45,</text><text class="ms" x="24" y="473.5">51, 52, 53,</text><text class="ms" x="26" y="481.5">54</text>
<line class="ml" x1="76" y1="497" x2="87" y2="489"/><text class="m" x="72" y="506">18, 43</text>
<line class="ml" x1="165" y1="561" x2="169" y2="554"/><text class="m" x="149" y="568">12, 38, 39</text>
<line class="ml" x1="171" y1="555" x2="168" y2="572"/><text class="m" x="164" y="583">24, 48</text>
<line class="ml" x1="184" y1="561" x2="184" y2="570"/><text class="m" x="187" y="578">24, 49</text>
<line class="ml" x1="287" y1="583" x2="286" y2="592"/><text class="m" x="297" y="599">19, 43, 46</text>
<line class="ml" x1="433" y1="546" x2="437" y2="553"/><text class="m" x="446" y="562">13, 38, 39</text>
<line class="ml" x1="502" y1="489" x2="509" y2="495"/><text class="m" x="516" y="502">19, 42</text>
<line class="ml" x1="543" y1="424" x2="568" y2="429"/><line class="ml" x1="543" y1="424" x2="560" y2="441"/><text class="ms" x="572" y="429">4, 25,</text><text class="ms" x="572" y="438">40, 41</text>
<text class="ms" x="552" y="448">16, 22, 29,</text><text class="ms" x="552" y="457">44, 45, 51,</text><text class="ms" x="552" y="465.5">52, 53, 54</text>
<line class="ml" x1="548" y1="413" x2="558" y2="416"/><text class="m" x="563" y="418">20</text>
<line class="ml" x1="557" y1="389" x2="567" y2="391"/><text class="m" x="583" y="394">14, 36, 37</text>
<line class="ml" x1="566" y1="351" x2="575" y2="353"/><text class="m" x="581" y="354">47</text>
</g>
<g id="legend">
<rect class="rb" x="15" y="573.5" width="12" height="9.7"/><text class="lg" x="29" y="582">Rubisco subunit</text>
<rect class="ps" x="15" y="583.2" width="12" height="9.7"/><text class="lg" x="29" y="591.7">Photosystem protein</text>
<rect class="cy" x="15" y="592.9" width="12" height="9.7"/><text class="lg" x="29" y="601.4">Cytochrome-related</text>
<rect class="at" x="15" y="602.6" width="12" height="9.7"/><text class="lg" x="29" y="611.1">ATP synthase</text>
<rect class="nd" x="15" y="612.3" width="12" height="9.7"/><text class="lg" x="29" y="620.8">NADH dehydrogenase</text>
<rect class="rp" x="15" y="622" width="12" height="9.7"/><text class="lg" x="29" y="630.5">Ribosomal protein subunit</text>
<rect class="rr" x="15" y="631.7" width="12" height="9.7"/><text class="lg" x="29" y="640.2">Ribosomal RNA</text>
<rect class="pe" x="15" y="641.4" width="12" height="9.7"/><text class="lg" x="29" y="649.9">Plastid-encoded RNA polymerase</text>
<rect class="ot" x="15" y="651.1" width="12" height="9.7"/><text class="lg" x="29" y="659.6">Other</text>
<rect class="yc" x="15" y="660.8" width="12" height="9.7"/><text class="lg" x="29" y="669.3">Unknown function / Unnamed (ycf)</text>
<rect class="pg" x="15" y="670.5" width="12" height="9.7"/><text class="lg" x="29" y="679">Pseudogene</text>
<rect class="tg" x="15" y="680.2" width="12" height="9.7"/><text class="lg" x="29" y="688.7">Transfer RNA</text>
<rect class="in" x="15" y="689.9" width="12" height="9.4"/><text class="lg" x="30" y="698.4">Intron</text>
</g>
</svg>
